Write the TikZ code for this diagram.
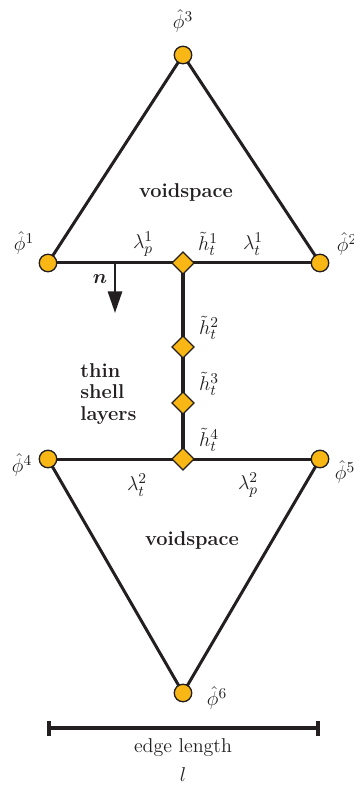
\documentclass[tikz,border=0pt]{standalone}
\usepackage{amsmath}
\usetikzlibrary{shapes.geometric,arrows.meta}
\definecolor{gold}{HTML}{F9B715}
\definecolor{ink}{HTML}{231F20}
\begin{document}
\begin{tikzpicture}[x=0.6pt,y=-0.6pt,
  vert/.style={circle,draw=ink,fill=gold,line width=0.8pt,minimum size=10.5pt,inner sep=0pt},
  shellnode/.style={diamond,draw=ink,fill=gold,line width=0.8pt,minimum size=13.5pt,inner sep=0pt},
  edge/.style={draw=ink,line width=1.8pt},
  lab/.style={font=\fontsize{13}{15}\selectfont,text=ink,inner sep=0pt},
  word/.style={font=\large\bfseries,text=ink,inner sep=0pt,align=left}]
\useasboundingbox (0,0) rectangle (353,786);
% coordinates
\coordinate (p3) at (183,55);
\coordinate (p1) at (48,263);
\coordinate (p2) at (320,263);
\coordinate (c1) at (183,263);
\coordinate (c2) at (183,347);
\coordinate (c3) at (183,403);
\coordinate (c4) at (183,459);
\coordinate (p4) at (48,459);
\coordinate (p5) at (320,459);
\coordinate (p6) at (183,693);
\coordinate (nA) at (115,263);
\coordinate (nB) at (115,313);
\coordinate (sL) at (49,728);
\coordinate (sR) at (318,728);
% edges
\draw[edge] (p1) -- (p3) -- (p2);
\draw[edge] (p1) -- (p2);
\draw[edge] (p4) -- (p5);
\draw[edge] (p4) -- (p6) -- (p5);
\draw[draw=ink,line width=2.4pt] (c1) -- (c4);
\draw[draw=ink,line width=1.5pt,-{Triangle[length=13pt,width=8.5pt]}] (nA) -- (nB);
% scale bar
\draw[draw=ink,line width=2.2pt] (sL) -- (sR);
\draw[draw=ink,line width=2.2pt] ([yshift=-4.5pt]sL) -- ([yshift=4.5pt]sL);
\draw[draw=ink,line width=2.2pt] ([yshift=-4.5pt]sR) -- ([yshift=4.5pt]sR);
% nodes
\node[vert] (v3) at (p3) {};
\node[vert] (v1) at (p1) {};
\node[vert] (v2) at (p2) {};
\node[vert] (v4) at (p4) {};
\node[vert] (v5) at (p5) {};
\node[vert] (v6) at (p6) {};
\node[shellnode] (d1) at (c1) {};
\node[shellnode] (d2) at (c2) {};
\node[shellnode] (d3) at (c3) {};
\node[shellnode] (d4) at (c4) {};
% labels
\node[lab] (l3) at (183,21) {$\hat\phi^3$};
\node[lab] (l1) at (24,243) {$\hat\phi^1$};
\node[lab] (l2) at (347,244) {$\hat\phi^2$};
\node[lab] (l4) at (22,465) {$\hat\phi^4$};
\node[lab] (l5) at (345,472) {$\hat\phi^5$};
\node[lab] (l6) at (217,698) {$\hat\phi^6$};
\node[lab] (lp1) at (143,244) {$\lambda_p^1$};
\node[lab] (lt1) at (253,244) {$\lambda_t^1$};
\node[lab] (lt2) at (137,485) {$\lambda_t^2$};
\node[lab] (lp2) at (248,485) {$\lambda_p^2$};
\node[lab] (h1) at (208,244) {$\tilde h_t^1$};
\node[lab] (h2) at (209,328) {$\tilde h_t^2$};
\node[lab] (h3) at (209,384) {$\tilde h_t^3$};
\node[lab] (h4) at (209,440) {$\tilde h_t^4$};
\node[lab] (nl) at (100,279) {$\boldsymbol{n}$};
\node[word] (vs1) at (186,193) {voidspace};
\node[word] (vs2) at (192,540) {voidspace};
\node[word,anchor=west] (tsl) at (80,394) {thin\\[-1pt]shell\\[-1pt]layers};
\node[font=\large,text=ink,inner sep=0pt] (el) at (183,748) {edge length};
\node[lab] (ll) at (183,775) {$l$};
\end{tikzpicture}
\end{document}
